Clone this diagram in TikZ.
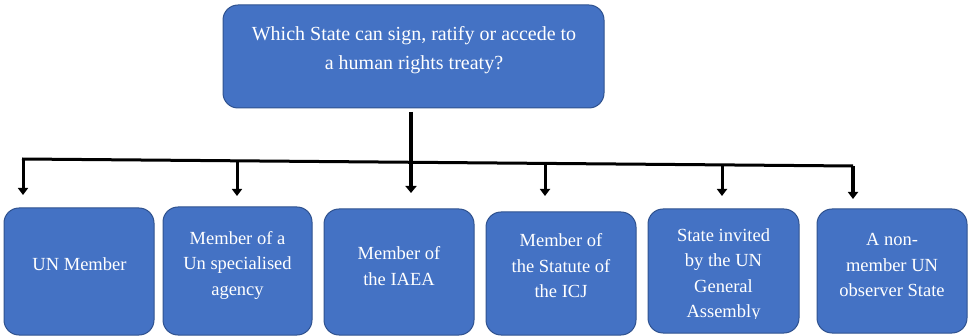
\documentclass[tikz,border=0pt]{standalone}
\usepackage{fontspec}
\setmainfont{Liberation Serif}
\usetikzlibrary{arrows.meta}
\definecolor{boxblue}{HTML}{4472C4}
\definecolor{boxedge}{HTML}{2F528F}
\begin{document}
\begin{tikzpicture}[x=1pt,y=-1pt,
  box/.style={draw=boxedge,line width=1pt,fill=boxblue,rounded corners=15pt,inner sep=0pt,outer sep=0pt},
  lbl/.style={text=white,align=center,font=\fontsize{18.5}{25.5}\selectfont,inner sep=0pt},
  toplbl/.style={text=white,align=center,font=\fontsize{20}{29}\selectfont,inner sep=0pt},
  bar/.style={line width=3pt,black},
  arr/.style={line width=3pt,black,-{Triangle[width=10pt,length=7pt]}},
  trunk/.style={line width=4pt,black,-{Triangle[width=11pt,length=7pt]}},
]
\useasboundingbox (0,0) rectangle (968,336);
% boxes
\node[box,minimum width=381pt,minimum height=103pt] (top) at (413.5,56.5) {};
\node[box,minimum width=150pt,minimum height=127pt] (b1) at (79,271.5) {};
\node[box,minimum width=149pt,minimum height=128pt] (b2) at (237.5,271) {};
\node[box,minimum width=150pt,minimum height=126pt] (b3) at (399,272) {};
\node[box,minimum width=150pt,minimum height=123pt] (b4) at (561,273.5) {};
\node[box,minimum width=151pt,minimum height=124pt] (b5) at (723.5,271) {};
\node[box,minimum width=150pt,minimum height=124pt] (b6) at (892,271) {};
% texts
\node[toplbl] (t0) at (414,50.5) {Which State can sign, ratify or accede to\\a human rights treaty?};
\node[lbl] (t1) at (79.5,264) {UN Member};
\node[lbl] (t2) at (237.5,265) {Member of a\\Un specialised\\agency};
\node[lbl] (t3) at (399,266) {Member of\\the IAEA};
\node[lbl] (t4) at (561,266) {Member of\\the Statute of\\the ICJ};
\begin{scope}
  \clip (650,210) rectangle (797,318);
  \node[lbl] (t5) at (723.5,275) {State invited\\by the UN\\General\\Assembly};
\end{scope}
\node[lbl] (t6) at (892,265) {A non-\\member UN\\observer State};
% connectors
\coordinate (j0) at (22,159);
\coordinate (j6) at (853,166);
\coordinate (t0s) at (411,112);
\coordinate (e3) at (411,193);
\coordinate (s1) at (23,159);   \coordinate (e1) at (23,195);
\coordinate (s2) at (237,161);  \coordinate (e2) at (237,196);
\coordinate (s4) at (545,163.5);\coordinate (e4) at (545,196);
\coordinate (s5) at (722,165);  \coordinate (e5) at (722,196);
\coordinate (s6) at (853,166);  \coordinate (e6) at (853,199);
\draw[bar] (j0) -- (j6);
\draw[trunk] (t0s) -- (e3);
\draw[arr] (s1) -- (e1);
\draw[arr] (s2) -- (e2);
\draw[arr] (s4) -- (e4);
\draw[arr] (s5) -- (e5);
\draw[arr,line width=3.5pt] (s6) -- (e6);
\end{tikzpicture}
\end{document}
